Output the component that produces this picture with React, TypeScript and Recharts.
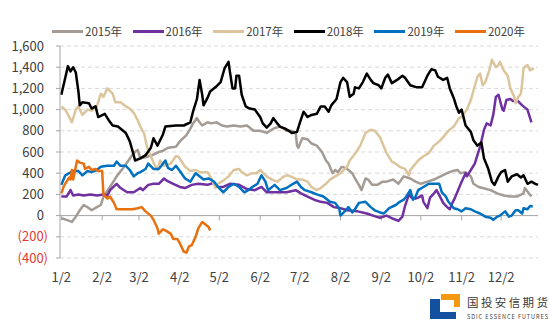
import React from "react";
import { LineChart, Line, XAxis, YAxis, CartesianGrid, ReferenceLine } from "recharts";

const FONT = '"Noto Sans CJK SC", "Noto Sans", sans-serif';

// x axis: day of year (Jan 1 = 0)
const tickDays = [1, 32, 60, 91, 121, 152, 182, 213, 244, 274, 305, 335];
const tickLabels = ["1/2", "2/2", "3/2", "4/2", "5/2", "6/2", "7/2", "8/2", "9/2", "10/2", "11/2", "12/2"];
const yTicks = [-400, -200, 0, 200, 400, 600, 800, 1000, 1200, 1400, 1600];

const days2015 = [1, 5, 9, 12, 15, 18, 22, 24, 28, 31, 33, 38, 43, 48, 52, 56, 59, 61, 65, 70, 75, 78, 82, 88, 91, 96, 99, 101, 104, 106, 108, 112, 115, 119, 123, 127, 132, 137, 142, 147, 152, 157, 162, 167, 172, 176, 179, 180, 181, 184, 188, 191, 195, 199, 202, 204, 207, 209, 211, 214, 217, 222, 224, 227, 229, 232, 234, 237, 241, 245, 248, 253, 257, 261, 266, 270, 274, 279, 284, 289, 294, 298, 302, 304, 308, 312, 314, 318, 321, 327, 332, 337, 342, 347, 352, 353, 356, 358];
const vals2015 = [-25, -40, -60, -10, 50, 100, 70, 50, 80, 100, 180, 270, 370, 450, 520, 590, 620, 540, 550, 570, 600, 610, 640, 650, 700, 760, 820, 870, 920, 880, 850, 880, 870, 880, 850, 840, 850, 840, 850, 800, 800, 780, 820, 840, 800, 800, 780, 660, 640, 730, 720, 680, 660, 600, 520, 490, 400, 430, 410, 460, 450, 400, 350, 290, 240, 350, 340, 290, 290, 320, 320, 340, 300, 370, 350, 320, 300, 320, 340, 370, 400, 420, 430, 400, 410, 370, 300, 270, 260, 240, 210, 190, 180, 180, 210, 260, 210, 180];

const days2016 = [1, 5, 8, 10, 14, 18, 23, 28, 33, 36, 38, 43, 46, 51, 56, 61, 63, 67, 71, 75, 79, 81, 86, 91, 95, 100, 105, 112, 117, 120, 124, 129, 136, 142, 148, 153, 157, 165, 172, 179, 183, 188, 193, 198, 203, 208, 213, 218, 226, 233, 240, 243, 248, 253, 257, 260, 262, 265, 267, 270, 272, 275, 276, 279, 281, 284, 286, 289, 291, 294, 296, 298, 300, 303, 305, 308, 309, 312, 315, 319, 322, 324, 327, 329, 331, 333, 336, 337, 339, 342, 344, 347, 351, 355, 357, 358];
const vals2016 = [180, 180, 240, 190, 200, 190, 200, 190, 200, 190, 240, 300, 260, 220, 220, 260, 240, 290, 300, 300, 350, 330, 300, 270, 260, 290, 300, 290, 310, 270, 270, 300, 290, 250, 240, 270, 220, 220, 220, 240, 210, 180, 150, 130, 120, 80, 70, 50, 40, 20, -10, -20, 0, -30, -50, -10, 90, 200, 170, 160, 170, 190, 130, 70, 170, 210, 240, 170, 120, 80, 60, 120, 170, 260, 320, 400, 370, 430, 490, 650, 810, 870, 850, 950, 1120, 1140, 1000, 990, 1090, 1100, 1080, 1090, 1040, 1000, 920, 880];

const days2017 = [1, 4, 7, 9, 12, 14, 17, 21, 24, 28, 31, 33, 36, 40, 42, 46, 50, 53, 56, 59, 61, 64, 66, 69, 71, 74, 76, 79, 84, 88, 90, 93, 95, 99, 103, 106, 112, 115, 118, 120, 124, 128, 132, 136, 138, 142, 146, 149, 152, 157, 161, 165, 170, 173, 177, 180, 184, 188, 191, 195, 198, 202, 205, 209, 213, 218, 220, 225, 228, 232, 236, 239, 243, 246, 248, 252, 255, 258, 262, 265, 266, 268, 272, 276, 280, 284, 288, 291, 295, 299, 303, 305, 309, 312, 314, 317, 319, 321, 323, 326, 328, 331, 333, 334, 337, 340, 342, 345, 346, 348, 350, 351, 352, 355, 357, 360];
const vals2017 = [1030, 1000, 930, 880, 1000, 1030, 950, 1000, 990, 1030, 1150, 1120, 1200, 1150, 1070, 1070, 1030, 1010, 970, 900, 840, 770, 650, 560, 500, 430, 520, 470, 490, 560, 555, 500, 460, 420, 430, 410, 410, 350, 260, 300, 330, 370, 430, 440, 410, 380, 400, 400, 430, 370, 340, 320, 370, 380, 360, 340, 340, 320, 270, 240, 260, 300, 340, 370, 400, 460, 520, 600, 660, 780, 810, 800, 740, 650, 590, 510, 490, 460, 440, 380, 430, 460, 520, 560, 590, 660, 700, 740, 800, 840, 920, 930, 1000, 1090, 1180, 1310, 1340, 1230, 1260, 1370, 1470, 1400, 1420, 1450, 1370, 1320, 1200, 1120, 1060, 1120, 1150, 1250, 1390, 1420, 1370, 1390];

const days2018 = [1, 4, 6, 8, 10, 12, 14, 15, 17, 22, 24, 27, 29, 34, 37, 40, 44, 50, 53, 56, 57, 61, 65, 69, 71, 74, 78, 80, 88, 94, 99, 101, 104, 106, 108, 109, 112, 114, 118, 122, 125, 128, 129, 131, 133, 134, 136, 138, 141, 144, 148, 152, 154, 157, 160, 162, 165, 167, 171, 175, 176, 180, 182, 185, 188, 191, 195, 198, 201, 204, 206, 210, 213, 215, 218, 220, 223, 224, 227, 230, 233, 236, 238, 242, 244, 247, 249, 252, 256, 260, 262, 266, 271, 275, 279, 282, 285, 287, 291, 294, 296, 299, 301, 303, 305, 308, 312, 314, 317, 320, 322, 325, 328, 330, 333, 335, 338, 340, 343, 347, 350, 352, 355, 358, 361, 363];
const vals2018 = [1140, 1300, 1410, 1360, 1400, 1350, 1170, 1040, 1070, 1060, 1010, 1030, 930, 960, 900, 850, 840, 780, 700, 570, 520, 540, 570, 640, 730, 660, 760, 840, 850, 850, 880, 980, 1100, 1280, 1140, 1040, 1110, 1170, 1210, 1260, 1390, 1450, 1360, 1200, 1200, 1320, 1320, 1140, 1030, 1010, 1000, 930, 870, 830, 870, 920, 870, 840, 820, 790, 780, 790, 870, 980, 930, 950, 960, 1030, 1030, 980, 1040, 1100, 1260, 1300, 1260, 1120, 1150, 1210, 1200, 1260, 1340, 1280, 1250, 1230, 1200, 1300, 1330, 1250, 1280, 1320, 1300, 1230, 1210, 1210, 1320, 1380, 1370, 1310, 1280, 1300, 1200, 1110, 1030, 970, 1000, 850, 790, 710, 660, 690, 540, 450, 320, 290, 370, 410, 430, 320, 370, 390, 360, 380, 300, 320, 300, 290];

const days2019 = [1, 4, 7, 10, 14, 17, 21, 24, 28, 31, 36, 41, 43, 46, 50, 53, 56, 59, 61, 65, 67, 71, 75, 77, 80, 82, 85, 88, 91, 95, 99, 103, 105, 109, 113, 117, 120, 124, 128, 132, 136, 140, 143, 146, 150, 153, 156, 158, 163, 167, 172, 177, 180, 183, 186, 191, 195, 200, 205, 209, 212, 213, 217, 219, 222, 224, 227, 232, 236, 239, 243, 246, 250, 255, 258, 261, 263, 266, 268, 270, 272, 276, 280, 283, 288, 290, 293, 295, 299, 302, 305, 308, 312, 315, 319, 323, 327, 329, 332, 334, 338, 341, 343, 346, 348, 351, 352, 355, 357, 359];
const vals2019 = [290, 380, 400, 420, 420, 380, 420, 410, 430, 460, 470, 470, 510, 470, 470, 430, 370, 400, 410, 440, 490, 440, 440, 470, 520, 450, 430, 470, 420, 350, 320, 400, 380, 340, 350, 320, 270, 220, 270, 300, 270, 220, 240, 270, 300, 380, 320, 240, 290, 240, 260, 300, 320, 270, 240, 220, 200, 180, 130, 120, 70, 0, 50, 80, 30, 60, 120, 130, 80, 50, 30, 20, 70, 100, 130, 150, 180, 240, 150, 180, 240, 270, 300, 300, 300, 220, 180, 130, 70, 60, 40, 70, 60, 40, 20, -10, -20, -40, -10, 0, 40, -10, 0, 50, 50, 20, 70, 60, 90, 85];

const days2020 = [1, 3, 5, 7, 8, 9, 10, 12, 13, 15, 18, 19, 22, 24, 27, 29, 32, 33, 36, 38, 41, 43, 47, 51, 55, 59, 62, 65, 69, 71, 74, 75, 78, 80, 84, 86, 89, 91, 94, 96, 98, 100, 103, 105, 108, 110, 113, 114];
const vals2020 = [210, 280, 320, 360, 340, 430, 340, 460, 520, 500, 490, 440, 460, 430, 440, 420, 420, 200, 160, 180, 120, 60, 60, 60, 60, 70, 80, 40, 0, -40, -120, -170, -130, -140, -170, -220, -220, -260, -340, -350, -290, -280, -200, -120, -60, -80, -110, -140];

const toPoints = (days: number[], vals: number[]) => days.map((day, i) => ({ day, value: vals[i] }));

const series = [
  { name: "2015年", color: "#A39B94", data: toPoints(days2015, vals2015) },
  { name: "2016年", color: "#7030A0", data: toPoints(days2016, vals2016) },
  { name: "2017年", color: "#DCC59C", data: toPoints(days2017, vals2017) },
  { name: "2018年", color: "#000000", data: toPoints(days2018, vals2018) },
  { name: "2019年", color: "#0070C0", data: toPoints(days2019, vals2019) },
  { name: "2020年", color: "#E8700E", data: toPoints(days2020, vals2020) },
];

const YTick = ({ x, y, payload }: any) => {
  const v = payload.value;
  const neg = v < 0;
  const text = neg ? `(${Math.abs(v).toLocaleString("en-US")})` : v.toLocaleString("en-US");
  return (
    <text x={neg ? x + 4 : x} y={y} dy="0.35em" textAnchor="end" fill={neg ? "#E03A32" : "#404040"} fontSize={13} fontFamily={FONT}>
      {text}
    </text>
  );
};

const Logo = () => (
  <svg width={550} height={325} style={{ position: "absolute", left: 0, top: 0, pointerEvents: "none" }}>
    <polygon points="441,294 460,294 460,307 454,307 454,300 441,300" fill="#F39A12" />
    <polygon points="430,299 440,299 440,312 456,312 456,319 430,319" fill="#1450A0" />
    <text x={467} y={306.5} fontSize={11.5} fontFamily={FONT} fill="#3A3A3A" textLength={81}>国投安信期货</text>
    <text x={467} y={319} fontSize={5.5} fontFamily={FONT} fill="#3A3A3A" textLength={81}>SDIC ESSENCE FUTURES</text>
  </svg>
);

const LegendRow = () => (
  <div style={{ position: "absolute", left: 52, top: 23, display: "flex", fontFamily: FONT, fontSize: 11.5, color: "#404040" }}>
    {series.map((s) => (
      <div key={s.name} style={{ width: 80.6, display: "flex", alignItems: "center", height: 16 }}>
        <div style={{ width: 31, height: 3, background: s.color, marginRight: 2 }} />
        <span>{s.name}</span>
      </div>
    ))}
  </div>
);

const App = () => {
  return (
    <div style={{ position: "absolute", left: 0, top: 0, width: 550, height: 325, background: "#fff" }}>
      <LineChart width={550} height={325} margin={{ top: 46, right: 12, bottom: 37, left: 0 }}>
        <CartesianGrid vertical={false} stroke="#D9D9D9" strokeDasharray="4 3" />
        <XAxis
          type="number"
          dataKey="day"
          domain={[0, 363]}
          ticks={tickDays}
          tickFormatter={(d: number) => tickLabels[tickDays.indexOf(d)]}
          axisLine={false}
          tickLine={false}
          tickMargin={9}
          height={30}
          tick={{ fontSize: 13, fontFamily: FONT, fill: "#404040" }}
          allowDuplicatedCategory={false}
        />
        <YAxis
          domain={[-400, 1600]}
          ticks={yTicks}
          width={60}
          interval={0}
          stroke="#A6A6A6"
          tickSize={4}
          tickMargin={12}
          tick={<YTick />}
        />
        <ReferenceLine y={0} stroke="#A6A6A6" strokeWidth={1} />
        {tickDays.map((d) => (
          <ReferenceLine key={d} segment={[{ x: d, y: 0 }, { x: d, y: -45 }]} stroke="#A6A6A6" strokeWidth={1} />
        ))}
        {series.map((s) => (
          <Line
            key={s.name}
            data={s.data}
            dataKey="value"
            name={s.name}
            type="linear"
            stroke={s.color}
            strokeWidth={2.5}
            strokeLinejoin="round"
            dot={false}
            activeDot={false}
            isAnimationActive={false}
          />
        ))}
      </LineChart>
      <LegendRow />
      <Logo />
    </div>
  );
};

export default App;
